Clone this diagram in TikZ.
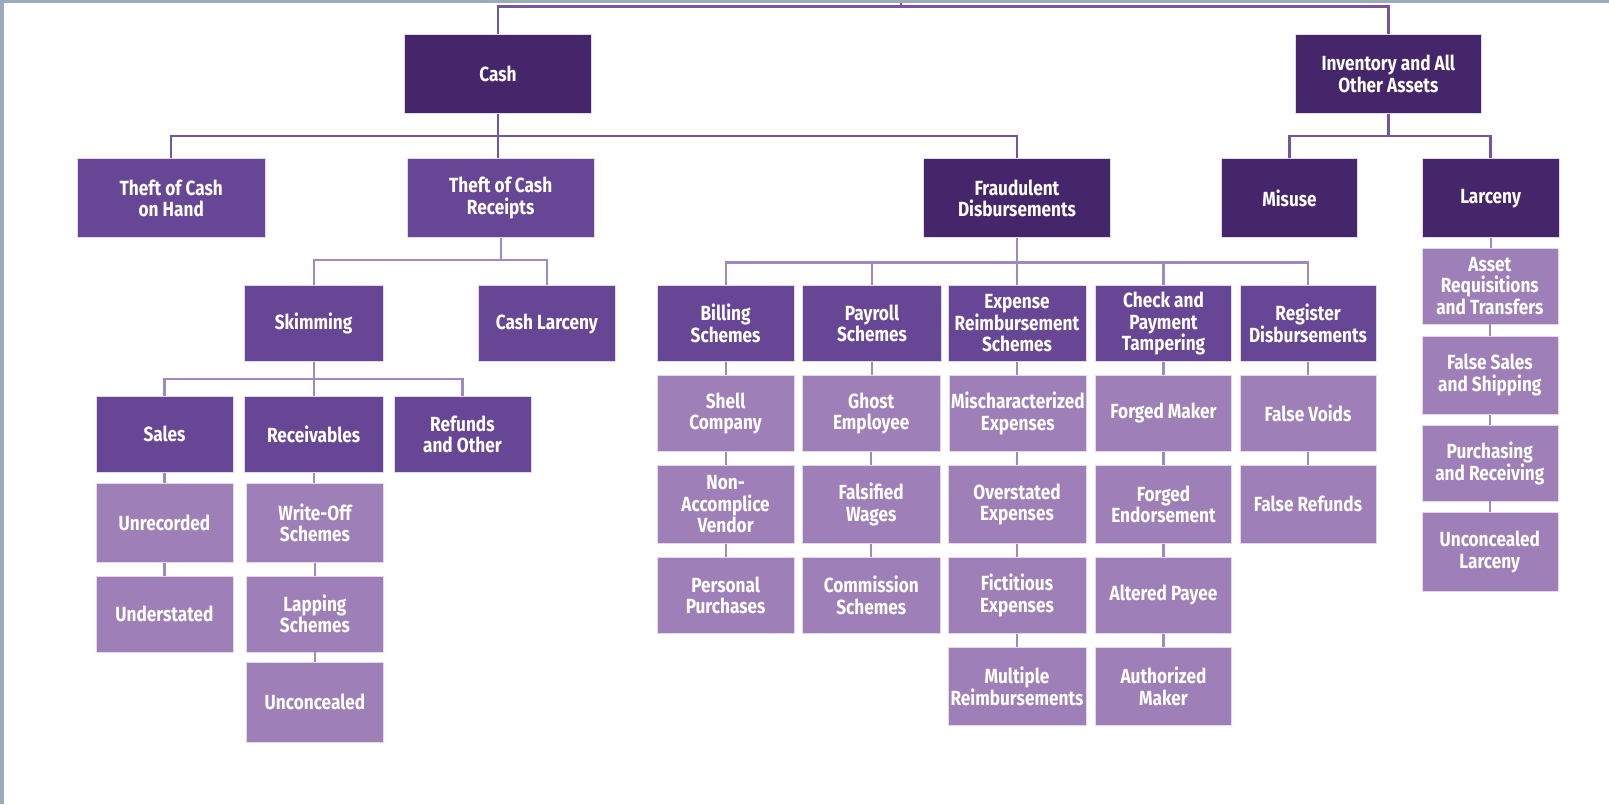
\documentclass[tikz,border=0pt]{standalone}
\usepackage{fontspec}
\newfontfamily\bxfont[FakeStretch=0.84]{Fira Sans}
\definecolor{dk}{HTML}{45266A}
\definecolor{md}{HTML}{684696}
\definecolor{lt}{HTML}{9E7FB8}
\definecolor{ln}{HTML}{7455A3}
\definecolor{lnl}{HTML}{A088C2}
\definecolor{framec}{HTML}{9DAABB}
\tikzset{
  box/.style={draw=white!70!lt, line width=0.6pt, inner sep=1pt, align=center, text=white,
    font=\bxfont\bfseries\fontsize{20.5}{21.5}\selectfont},
  dkbox/.style={box, fill=dk},
  mdbox/.style={box, fill=md},
  ltbox/.style={box, fill=lt},
  conn/.style={draw=ln, line width=2.4pt},
  connl/.style={draw=lnl, line width=2.2pt},
}
\newcommand\mkbox[7]{%
  \pgfmathsetmacro\mybw{#5-#3}\pgfmathsetmacro\mybh{#6-#4}%
  \node[#1, minimum width=\mybw pt, minimum height=\mybh pt] (#2) at ({(#3+#5)/2},{(#4+#6)/2}) {#7};}
\begin{document}
\begin{tikzpicture}[x=1pt, y=-1pt]
\useasboundingbox (0,0) rectangle (1609,804);
\fill[white] (0,0) rectangle (1609,804);
\fill[framec] (0,0) rectangle (1609,3);
\fill[framec] (0,0) rectangle (4,804);

% bus levels
\coordinate (top) at (0,6.5);
\coordinate (tick) at (901,3);
\coordinate (b1) at (0,136);
\coordinate (b2) at (0,260);
\coordinate (b3) at (0,379);
\coordinate (b4) at (0,262.4);

% level 0
\mkbox{dkbox}{cash}{404.5}{34.3}{591.3}{113.7}{Cash}
\mkbox{dkbox}{inv}{1295}{34.3}{1481.6}{113.7}{Inventory and All\\Other Assets}

% level 1
\mkbox{mdbox}{tocoh}{77.7}{158.7}{264.8}{237.7}{Theft of Cash\\on Hand}
\mkbox{mdbox}{tocr}{407.3}{158.7}{594}{237.7}{Theft of Cash\\Receipts}
\mkbox{dkbox}{fraud}{923.7}{158.7}{1110.3}{237.7}{Fraudulent\\Disbursements}
\mkbox{dkbox}{misuse}{1221.6}{158.7}{1357.4}{237.7}{Misuse}
\mkbox{dkbox}{larc}{1422.4}{158.7}{1558.8}{237.7}{Larceny}

% larceny column
\mkbox{ltbox}{asset}{1421.8}{248}{1557.8}{324}{Asset\\Requisitions\\and Transfers}
\mkbox{ltbox}{fsales}{1421.8}{335.9}{1557.8}{414.3}{False Sales\\and Shipping}
\mkbox{ltbox}{purch}{1421.8}{425.6}{1557.8}{500.9}{Purchasing\\and Receiving}
\mkbox{ltbox}{unclarc}{1421.8}{512.5}{1557.8}{591}{Unconcealed\\Larceny}

% theft of cash receipts subtree
\mkbox{mdbox}{skim}{244}{285.3}{383.2}{361.7}{Skimming}
\mkbox{mdbox}{clarc}{478.5}{285.3}{615.3}{361.7}{Cash Larceny}
\mkbox{mdbox}{sales}{96}{396}{233}{472.6}{Sales}
\mkbox{mdbox}{recv}{244}{396}{383.2}{472.6}{Receivables}
\mkbox{mdbox}{refund}{393.8}{396}{531}{472.6}{Refunds\\and Other}
\mkbox{ltbox}{unrec}{96}{483.2}{233}{562.4}{Unrecorded}
\mkbox{ltbox}{under}{96}{575.8}{233}{651.8}{Understated}
\mkbox{ltbox}{wo}{246.7}{483.2}{383.2}{562.4}{Write-Off\\Schemes}
\mkbox{ltbox}{lap}{246.7}{575.8}{383.2}{651.8}{Lapping\\Schemes}
\mkbox{ltbox}{uncon}{246.7}{662.7}{383.2}{741.9}{Unconcealed}

% fraudulent disbursements subtree
\mkbox{mdbox}{bill}{657.3}{285.3}{793.9}{361.7}{Billing\\Schemes}
\mkbox{mdbox}{pay}{802.5}{285.3}{941.6}{361.7}{Payroll\\Schemes}
\mkbox{mdbox}{exp}{947.8}{285.3}{1086.2}{361.7}{Expense\\Reimbursement\\Schemes}
\mkbox{mdbox}{chk}{1095.5}{285.3}{1231.5}{361.7}{Check and\\Payment\\Tampering}
\mkbox{mdbox}{reg}{1240}{285.3}{1376}{361.7}{Register\\Disbursements}

\mkbox{ltbox}{shell}{657.3}{375.4}{793.9}{451.4}{Shell\\Company}
\mkbox{ltbox}{nonacc}{657.3}{465.2}{793.9}{543.3}{Non-\\Accomplice\\Vendor}
\mkbox{ltbox}{perspur}{657.3}{557.4}{793.9}{633.4}{Personal\\Purchases}

\mkbox{ltbox}{ghost}{802.5}{375.4}{940}{451.4}{Ghost\\Employee}
\mkbox{ltbox}{fwages}{802.5}{465.2}{940}{543.3}{Falsified\\Wages}
\mkbox{ltbox}{comm}{802.5}{557.4}{940}{633.4}{Commission\\Schemes}

\mkbox{ltbox}{misch}{949.5}{375.4}{1086.2}{451.4}{Mischaracterized\\Expenses}
\mkbox{ltbox}{overst}{947.8}{465.2}{1086.2}{543.3}{Overstated\\Expenses}
\mkbox{ltbox}{fict}{947.8}{557.4}{1086.2}{633.4}{Fictitious\\Expenses}
\mkbox{ltbox}{multi}{947.8}{647.2}{1086.2}{725.6}{Multiple\\Reimbursements}

\mkbox{ltbox}{fmaker}{1095.5}{375.4}{1231.5}{451.4}{Forged Maker}
\mkbox{ltbox}{fend}{1095.5}{465.2}{1231.5}{543.3}{Forged\\Endorsement}
\mkbox{ltbox}{altp}{1095.5}{557.4}{1231.5}{633.4}{Altered Payee}
\mkbox{ltbox}{authm}{1095.5}{647.2}{1231.5}{725.6}{Authorized\\Maker}

\mkbox{ltbox}{fvoids}{1240}{375.4}{1376}{451.4}{False Voids}
\mkbox{ltbox}{frefunds}{1240}{465.2}{1376}{543.3}{False Refunds}

% connectors: top
\draw[conn] (cash.north) -- (cash.north |- top) -- (inv.north |- top) -- (inv.north);
\draw[conn] (tick) -- (tick |- top);
% cash children
\draw[conn] (tocoh.north) -- (tocoh.north |- b1) -- (fraud.north |- b1) -- (fraud.north);
\draw[conn] (cash.south) -- (cash.south |- tocr.north);
% inventory children
\draw[conn] (inv.south) -- (inv.south |- b1);
\draw[conn] (misuse.north) -- (misuse.north |- b1) -- (larc.north |- b1) -- (larc.north);
% larceny chain
\draw[connl] (larc.south) -- (larc.south |- asset.north);
\draw[connl] (asset.south) -- (fsales.north);
\draw[connl] (fsales.south) -- (purch.north);
\draw[connl] (purch.south) -- (unclarc.north);
% theft of cash receipts
\draw[connl] (tocr.south) -- (tocr.south |- b2);
\draw[connl] (skim.north) -- (skim.north |- b2) -- (clarc.north |- b2) -- (clarc.north);
\draw[connl] (skim.south) -- (skim.south |- b3);
\draw[connl] (sales.north) -- (sales.north |- b3) -- (refund.north |- b3) -- (refund.north);
\draw[connl] (recv.north) -- (recv.north |- b3);
\draw[connl] (sales.south) -- (unrec.north);
\draw[connl] (unrec.south) -- (under.north);
\draw[connl] (recv.south) -- (recv.south |- wo.north);
\draw[connl] (wo.south) -- (lap.north);
\draw[connl] (lap.south) -- (uncon.north);
% fraudulent disbursements
\draw[connl] (fraud.south) -- (fraud.south |- b4);
\draw[connl] (bill.north) -- (bill.north |- b4) -- (reg.north |- b4) -- (reg.north);
\draw[connl] (pay.north) -- (pay.north |- b4);
\draw[connl] (exp.north) -- (exp.north |- b4);
\draw[connl] (chk.north) -- (chk.north |- b4);
\draw[connl] (bill.south) -- (shell.north);
\draw[connl] (shell.south) -- (nonacc.north);
\draw[connl] (nonacc.south) -- (perspur.north);
\draw[connl] (pay.south) -- (pay.south |- ghost.north);
\draw[connl] (ghost.south) -- (fwages.north);
\draw[connl] (fwages.south) -- (comm.north);
\draw[connl] (exp.south) -- (exp.south |- misch.north);
\draw[connl] (misch.south -| overst.north) -- (overst.north);
\draw[connl] (overst.south) -- (fict.north);
\draw[connl] (fict.south) -- (multi.north);
\draw[connl] (chk.south) -- (fmaker.north);
\draw[connl] (fmaker.south) -- (fend.north);
\draw[connl] (fend.south) -- (altp.north);
\draw[connl] (altp.south) -- (authm.north);
\draw[connl] (reg.south) -- (fvoids.north);
\draw[connl] (fvoids.south) -- (frefunds.north);
\end{tikzpicture}
\end{document}
